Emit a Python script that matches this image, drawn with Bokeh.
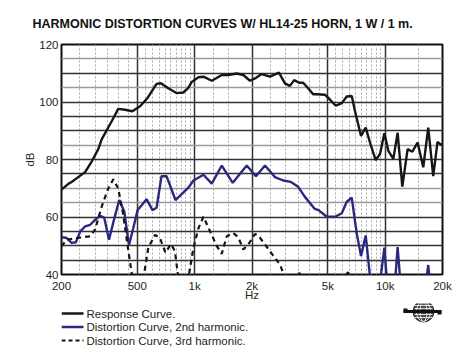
from bokeh.plotting import figure
from bokeh.models import FixedTicker, Grid, Range1d
from bokeh.layouts import column
from bokeh.core.properties import value
from bokeh.embed import file_html
from bokeh.resources import INLINE

# ---------------- data ----------------
resp_freq = [200, 218, 226, 251, 266, 288, 312, 325, 367, 397, 431, 471, 517, 566, 631, 665, 727, 803,
             871, 924, 966, 1047, 1112, 1230, 1388, 1503, 1662, 1801, 1952, 2073, 2248, 2485, 2770,
             2977, 3162, 3330, 3537, 3712, 3943, 4188, 4378, 4840, 5140, 5507, 5920, 6288, 6678,
             6948, 7470, 7906, 8326, 8920, 9394, 9906, 10394, 11040, 11627, 12304, 13120, 13880,
             14798, 15850, 16836, 17880, 18830, 19760, 20000]
resp_db = [69.5, 71.6, 72.2, 74.4, 75.6, 79.3, 83.6, 87.0, 93.3, 97.6, 97.3, 96.8, 98.5, 101.4, 106.3,
           106.5, 104.8, 103.1, 103.3, 104.8, 107.0, 108.6, 108.8, 107.4, 109.4, 109.4, 109.9, 109.4,
           107.4, 108.2, 109.7, 108.8, 110.2, 106.5, 105.6, 107.6, 106.7, 106.7, 104.8, 102.7, 102.7,
           102.5, 100.8, 98.7, 99.6, 101.9, 102.1, 96.8, 88.2, 91.1, 85.9, 79.8, 81.9, 89.1, 83.0,
           80.2, 89.3, 70.6, 83.6, 82.7, 85.9, 77.3, 91.1, 74.2, 86.1, 85.0, 85.5]

h2_freq = [200, 213, 226, 238, 251, 266, 283, 300, 319, 335, 355, 379, 402, 427, 452, 476, 502, 527,
           559, 601, 631, 670, 712, 793, 924, 986, 1112, 1230, 1388, 1585, 1877, 2098, 2340, 2638,
           2917, 3201, 3495, 3790, 4275, 4470, 4940, 5460, 5920, 6288, 6678, 7090, 7470, 7906, 8426,
           9300, 9906, 10300, 11200, 11627, 12100, 16200, 16836, 17300, 20000]
h2_db = [53.0, 52.7, 51.0, 51.2, 55.0, 56.7, 57.3, 59.0, 60.4, 59.8, 52.1, 59.6, 65.9, 61.9, 50.2,
         56.1, 62.4, 64.1, 66.2, 62.4, 63.2, 74.2, 74.2, 65.9, 70.1, 72.7, 74.7, 71.6, 77.9, 71.9,
         77.9, 74.2, 77.9, 73.9, 72.7, 72.2, 70.5, 67.0, 62.8, 62.4, 60.1, 60.1, 61.3, 65.3, 66.7,
         54.4, 46.4, 53.6, 36.0, 35.0, 49.3, 35.0, 35.0, 49.5, 35.0, 35.0, 43.3, 35.0, 35.0]

h3_freq = [200, 213, 231, 255, 283, 300, 325, 352, 374, 397, 422, 449, 471, 500, 538, 571, 619, 657,
           703, 751, 788, 820, 870, 928, 986, 1047, 1112, 1205, 1307, 1388, 1474, 1596, 1696, 1801,
           1912, 2073, 2158, 2340, 2556, 2804, 2977, 3200, 3550, 3800, 4500, 6400, 7000, 20000]
h3_db = [49.8, 52.1, 52.5, 52.9, 53.3, 55.6, 63.6, 69.9, 73.1, 69.9, 60.7, 48.1, 39.0, 32.0, 38.5,
         49.3, 53.8, 52.7, 47.6, 50.6, 48.1, 39.0, 33.0, 39.0, 49.3, 56.1, 60.1, 55.0, 49.9, 47.2,
         53.3, 54.4, 52.9, 48.7, 50.4, 54.1, 53.6, 50.4, 47.0, 43.5, 39.0, 34.0, 40.6, 34.0, 30.0,
         40.8, 30.0, 30.0]

x_ticks = [200, 500, 1000, 2000, 5000, 10000, 20000]
x_tick_labels = ["200", "500", "1k", "2k", "5k", "10k", "20k"]
x_major_grid = [500, 1000, 2000, 5000, 10000]
x_minor_grid = [250, 300, 350, 400, 450, 550, 600, 650, 700, 750, 800, 850, 900, 950,
                1250, 1500, 2500, 3000, 3500, 4000, 4500, 5500, 6000, 6500, 7000, 7500,
                8000, 8500, 9000, 9500, 15000]
y_ticks = [40, 60, 80, 100, 120]
y_dark_grid = [45, 50, 55, 60, 75, 80, 90, 95, 100, 110]
y_grey_grid = [65, 70, 85, 105, 115]

legend_labels = ["Response Curve.", "Distortion Curve, 2nd harmonic.", "Distortion Curve, 3rd harmonic."]
title_text = "HARMONIC DISTORTION CURVES W/ HL14-25 HORN, 1 W / 1 m."

FONT = "Liberation Sans"
TXT = "#231f20"
BLUE = "#2b2880"
BLACK = "#161616"

W = 456
p = figure(width=W, height=303, x_axis_type="log", x_range=(200, 20000), y_range=(40, 120),
           output_backend="svg", toolbar_location=None,
           min_border_left=61, min_border_right=14, min_border_top=44, min_border_bottom=26)

p.title.text = title_text
p.title.text_font = FONT
p.title.text_font_size = "12.5px"
p.title.text_font_style = "bold"
p.title.text_color = "#111111"
p.title.align = "left"
p.title.offset = -29
p.title.standoff = 28

p.outline_line_color = "#111111"
p.outline_line_width = 2
p.background_fill_color = "white"
p.border_fill_color = "white"

# axes
p.xaxis.ticker = FixedTicker(ticks=x_ticks)
p.xaxis.major_label_overrides = {t: l for t, l in zip(x_ticks, x_tick_labels)}
p.yaxis.ticker = FixedTicker(ticks=y_ticks)
for ax in (p.xaxis, p.yaxis):
    ax.axis_line_color = None
    ax.major_tick_line_color = None
    ax.minor_tick_line_color = None
    ax.major_tick_out = 0
    ax.major_tick_in = 0
    ax.minor_tick_out = 0
    ax.minor_tick_in = 0
    ax.major_label_text_font = FONT
    ax.major_label_text_font_size = "11.5px"
    ax.major_label_text_color = TXT
    ax.axis_label_text_font = FONT
    ax.axis_label_text_font_size = "11.5px"
    ax.axis_label_text_font_style = "normal"
    ax.axis_label_text_color = TXT
p.xaxis.axis_label = "Hz"
p.yaxis.axis_label = "dB"
p.xaxis.major_label_standoff = 5
p.xaxis.axis_label_standoff = -6
p.yaxis.major_label_standoff = 3
p.yaxis.axis_label_standoff = 0

# grids
p.xgrid.ticker = FixedTicker(ticks=x_major_grid, minor_ticks=x_minor_grid)
p.xgrid.grid_line_color = "#333333"
p.xgrid.grid_line_width = 1.5
p.xgrid.minor_grid_line_color = "#a8a8a8"
p.xgrid.minor_grid_line_dash = "2 2"
p.xgrid.minor_grid_line_width = 1
p.ygrid.ticker = FixedTicker(ticks=y_dark_grid)
p.ygrid.grid_line_color = "#333333"
p.ygrid.grid_line_width = 1.3
g2 = Grid(dimension=1, ticker=FixedTicker(ticks=y_grey_grid), grid_line_color="#9a9a9a", grid_line_width=1.6)
p.add_layout(g2, "center")

p.line(resp_freq, resp_db, line_color=BLACK, line_width=2.4)
p.line(h2_freq, h2_db, line_color=BLUE, line_width=2.4)
p.line(h3_freq, h3_db, line_color=BLACK, line_width=2.2, line_dash="5 4")

# ---------------- legend strip (page-pixel coordinates; frame aligned with plot above) ----------------
LH = 53
q = figure(width=W, height=LH, x_range=Range1d(61, 442), y_range=Range1d(LH, 0),
           output_backend="svg", toolbar_location=None, min_border=0,
           min_border_left=61, min_border_right=14,
           x_axis_location=None, y_axis_location=None)
q.grid.visible = False
q.outline_line_color = None
q.background_fill_color = "white"
q.border_fill_color = "white"

rows = [10, 23.5, 37]
styles = [dict(line_color=BLACK, line_width=2.4),
          dict(line_color=BLUE, line_width=2.4),
          dict(line_color=BLACK, line_width=2.2, line_dash="4 3")]
for ry, st in zip(rows, styles):
    q.line([61, 83], [ry, ry], **st)
q.text(x=[86] * 3, y=rows, text=legend_labels, text_font=value(FONT), text_font_size="11.5px",
       text_color=TXT, text_baseline="middle", text_align="left")

# logo: globe with a bar
q.scatter(x=[423], y=[8], size=21, marker="circle", fill_color="#4a4a4a", line_color="#222222", line_width=1)
for dy in [-6, -3, 0, 3, 6]:
    q.line([414, 432], [8 + dy, 8 + dy], line_color="white", line_width=0.8)
q.ellipse(x=[423, 423], y=[8, 8], width=[7, 14], height=[20, 20], fill_color=None,
          line_color="white", line_width=0.8)
q.line([403, 441], [8, 8], line_color="#111111", line_width=3)
q.scatter(x=[405, 439], y=[7, 9], size=4, marker="square", fill_color="#111111", line_color=None)

layout = column(p, q, spacing=0)
open("out.html", "w").write(file_html(layout, INLINE))
